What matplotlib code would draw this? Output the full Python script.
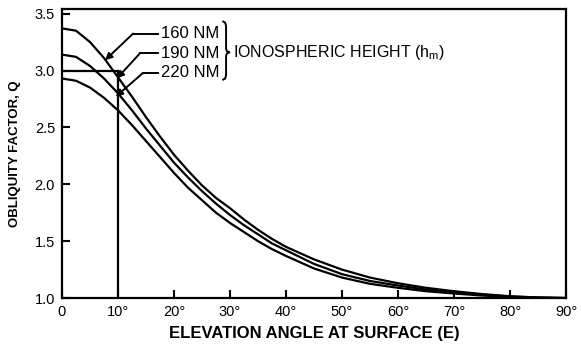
import matplotlib
matplotlib.use("Agg")
import matplotlib.pyplot as plt

plt.rcParams['font.family'] = ['Liberation Sans', 'DejaVu Sans']

elevation = [0, 2.5, 5, 7.5, 10, 12.5, 15, 17.5, 20, 22.5, 25, 27.5, 30, 32.5, 35, 37.5,
             40, 45, 50, 55, 60, 65, 70, 75, 80, 85, 90]
q_160 = [3.37, 3.35, 3.25, 3.11, 2.94, 2.77, 2.59, 2.42, 2.26, 2.12, 1.99, 1.88, 1.79, 1.69,
         1.60, 1.52, 1.45, 1.34, 1.25, 1.18, 1.13, 1.09, 1.06, 1.035, 1.016, 1.005, 1.0]
q_190 = [3.14, 3.12, 3.04, 2.93, 2.80, 2.65, 2.49, 2.34, 2.19, 2.06, 1.94, 1.83, 1.73, 1.64,
         1.56, 1.48, 1.42, 1.30, 1.21, 1.15, 1.11, 1.075, 1.05, 1.03, 1.013, 1.004, 1.0]
q_220 = [2.93, 2.91, 2.85, 2.76, 2.65, 2.52, 2.38, 2.24, 2.10, 1.97, 1.86, 1.75, 1.66, 1.58,
         1.50, 1.43, 1.37, 1.26, 1.18, 1.125, 1.09, 1.06, 1.04, 1.022, 1.009, 1.002, 1.0]
series_labels = ["160 NM", "190 NM", "220 NM"]
xticks = [0, 10, 20, 30, 40, 50, 60, 70, 80, 90]
xticklabels = ["0", "10°", "20°", "30°", "40°", "50°", "60°", "70°", "80°", "90°"]
yticks = [1.0, 1.5, 2.0, 2.5, 3.0, 3.5]

fig = plt.figure(figsize=(5.81, 3.49), dpi=100)
ax = fig.add_axes([0.1067, 0.146, 0.8675, 0.828])

for q in (q_160, q_190, q_220):
    ax.plot(elevation, q, color="black", lw=1.6, solid_capstyle="butt")

# reference lines at 10 degrees / Q = 3.0
ax.plot([0, 10], [3.0, 3.0], color="black", lw=1.6)
ax.plot([10, 10], [1.0, 3.0], color="black", lw=1.6)

ax.set_xlim(0, 90)
ax.set_ylim(1.0, 3.54)
ax.set_xticks(xticks)
ax.set_xticklabels(xticklabels)
ax.set_yticks(yticks)
ax.set_yticklabels([f"{v:.1f}" for v in yticks])
ax.tick_params(direction="in", length=6, width=1.5, labelsize=10.5, pad=5)
for s in ax.spines.values():
    s.set_linewidth(1.6)

ax.set_xlabel("ELEVATION ANGLE AT SURFACE (E)", fontsize=12, fontweight="bold", labelpad=5)
ax.set_ylabel("OBLIQUITY FACTOR, Q", fontsize=9.5, fontweight="bold", labelpad=10)

# labels with leader arrows
label_y = [3.325, 3.15, 2.98]
knee_x = [12.7, 13.9, 14.5]
tips = [(7.7, 3.09), (9.8, 2.93), (9.6, 2.77)]
for lab, ly, kx, tip in zip(series_labels, label_y, knee_x, tips):
    ax.text(17.6, ly, lab, fontsize=12, va="center", ha="left")
    ax.plot([17.2, kx], [ly, ly], color="black", lw=1.4)
    ax.annotate("", xy=tip, xytext=(kx, ly),
                arrowprops=dict(arrowstyle="-|>", color="black", lw=1.4,
                                mutation_scale=10, shrinkA=0, shrinkB=0))

# curly brace
bx = 29.3
y_top, y_mid, y_bot = 3.43, 3.16, 2.92
brace_x = [bx - 0.5, bx - 0.15, bx, bx, bx + 0.15, bx + 0.6, bx + 0.15, bx, bx, bx - 0.15, bx - 0.5]
brace_y = [y_top, y_top - 0.01, y_top - 0.04, y_mid + 0.03, y_mid + 0.01, y_mid,
           y_mid - 0.01, y_mid - 0.03, y_bot + 0.04, y_bot + 0.01, y_bot]
ax.plot(brace_x, brace_y, color="black", lw=1.4, solid_joinstyle="round")
ax.text(30.5, 3.16, "IONOSPHERIC HEIGHT ($\\mathregular{h_m}$)", fontsize=11.5, va="center", ha="left")

fig.savefig("out.png", dpi=100)
